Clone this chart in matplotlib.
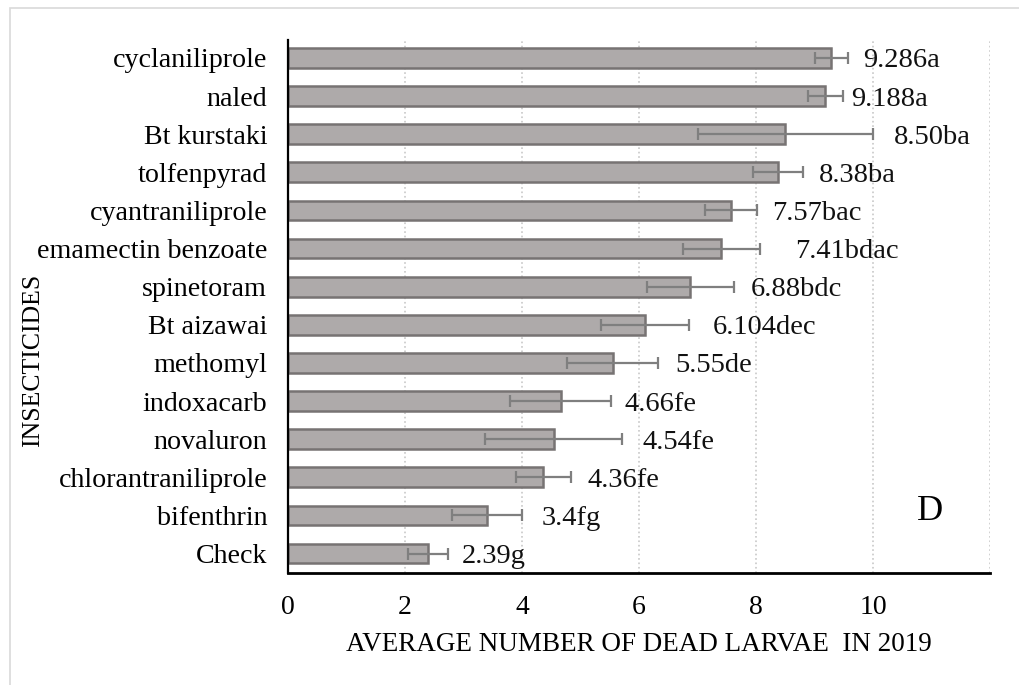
import numpy as np
import matplotlib.pyplot as plt
from matplotlib.patches import Rectangle

# Data (top to bottom as in the figure)
insecticides = ['cyclaniliprole', 'naled', 'Bt kurstaki', 'tolfenpyrad',
                'cyantraniliprole', 'emamectin benzoate', 'spinetoram',
                'Bt aizawai', 'methomyl', 'indoxacarb', 'novaluron',
                'chlorantraniliprole', 'bifenthrin', 'Check']
means = [9.286, 9.188, 8.50, 8.38, 7.57, 7.41, 6.88, 6.104, 5.55, 4.66,
         4.54, 4.36, 3.4, 2.39]
errors = [0.28, 0.30, 1.50, 0.43, 0.45, 0.66, 0.75, 0.75, 0.78, 0.86,
          1.17, 0.47, 0.60, 0.34]
letters = ['a', 'a', 'ba', 'ba', 'bac', 'bdac', 'bdc', 'dec', 'de', 'fe',
           'fe', 'fe', 'fg', 'g']
value_text = ['9.286', '9.188', '8.50', '8.38', '7.57', '7.41', '6.88',
              '6.104', '5.55', '4.66', '4.54', '4.36', '3.4', '2.39']

# gap (points) between error bar end and its label, labels were placed by hand
label_gap = [11, 6, 15, 11, 11, 25, 12, 17, 12, 10, 15, 12, 14, 10]

plt.rcParams['font.family'] = ['Liberation Serif', 'DejaVu Serif']

fig = plt.figure(figsize=(10.2, 6.85), dpi=100)
ax = fig.add_axes([288/1020, 1-573/685, 702/1020, 533/685])

# reverse so first item is at top
y = np.arange(len(insecticides))[::-1]
ax.barh(y, means, height=0.52, color='#aeaaaa', edgecolor='#777373',
        linewidth=1.8, zorder=2)
ax.errorbar(means, y, xerr=errors, fmt='none', ecolor='#7f7f7f',
            elinewidth=1.6, capsize=4.5, capthick=1.6, zorder=3)

for yi, m, e, v, l, g in zip(y, means, errors, value_text, letters, label_gap):
    ax.annotate(v + l, xy=(m + e, yi), xytext=(g, 0),
                textcoords='offset points', ha='left', va='center_baseline',
                fontsize=20.5, color='#111111')

ax.text(10.97, 1.09, 'D', fontsize=26, ha='center', va='center')

ax.set_xlim(0, 12)
ax.set_ylim(-0.51, 13.47)
ax.set_xticks(np.arange(0, 13, 2))
ax.set_xticklabels(['0', '2', '4', '6', '8', '10', ''])
ax.set_yticks(y)
ax.set_yticklabels(insecticides)
ax.tick_params(axis='x', length=0, pad=16, labelsize=20)
ax.tick_params(axis='y', length=0, pad=15, labelsize=20.2)
ax.xaxis.grid(True, linestyle=':', color='#c8c8c8', linewidth=1.2, zorder=0)
ax.set_axisbelow(True)

for s in ['top', 'right']:
    ax.spines[s].set_visible(False)
ax.spines['left'].set_linewidth(1.6)
ax.spines['bottom'].set_linewidth(2)

ax.set_xlabel('AVERAGE NUMBER OF DEAD LARVAE  IN 2019', fontsize=19.5)
ax.xaxis.set_label_coords(0.5, -0.135)
ax.xaxis.label.set_va('center')
ax.set_ylabel('INSECTICIDES', fontsize=18.5)
ax.yaxis.set_label_coords(-0.363, 0.398)
ax.yaxis.label.set_va('center')

# light frame around the chart (right and bottom edges fall outside the image)
fig.patches.append(Rectangle((10/1020, -0.05), 1.2, 1 - 8/685 + 0.05,
                             transform=fig.transFigure, fill=False,
                             edgecolor='#d9d9d9', linewidth=1.2))

fig.savefig('out.png', dpi=100)
